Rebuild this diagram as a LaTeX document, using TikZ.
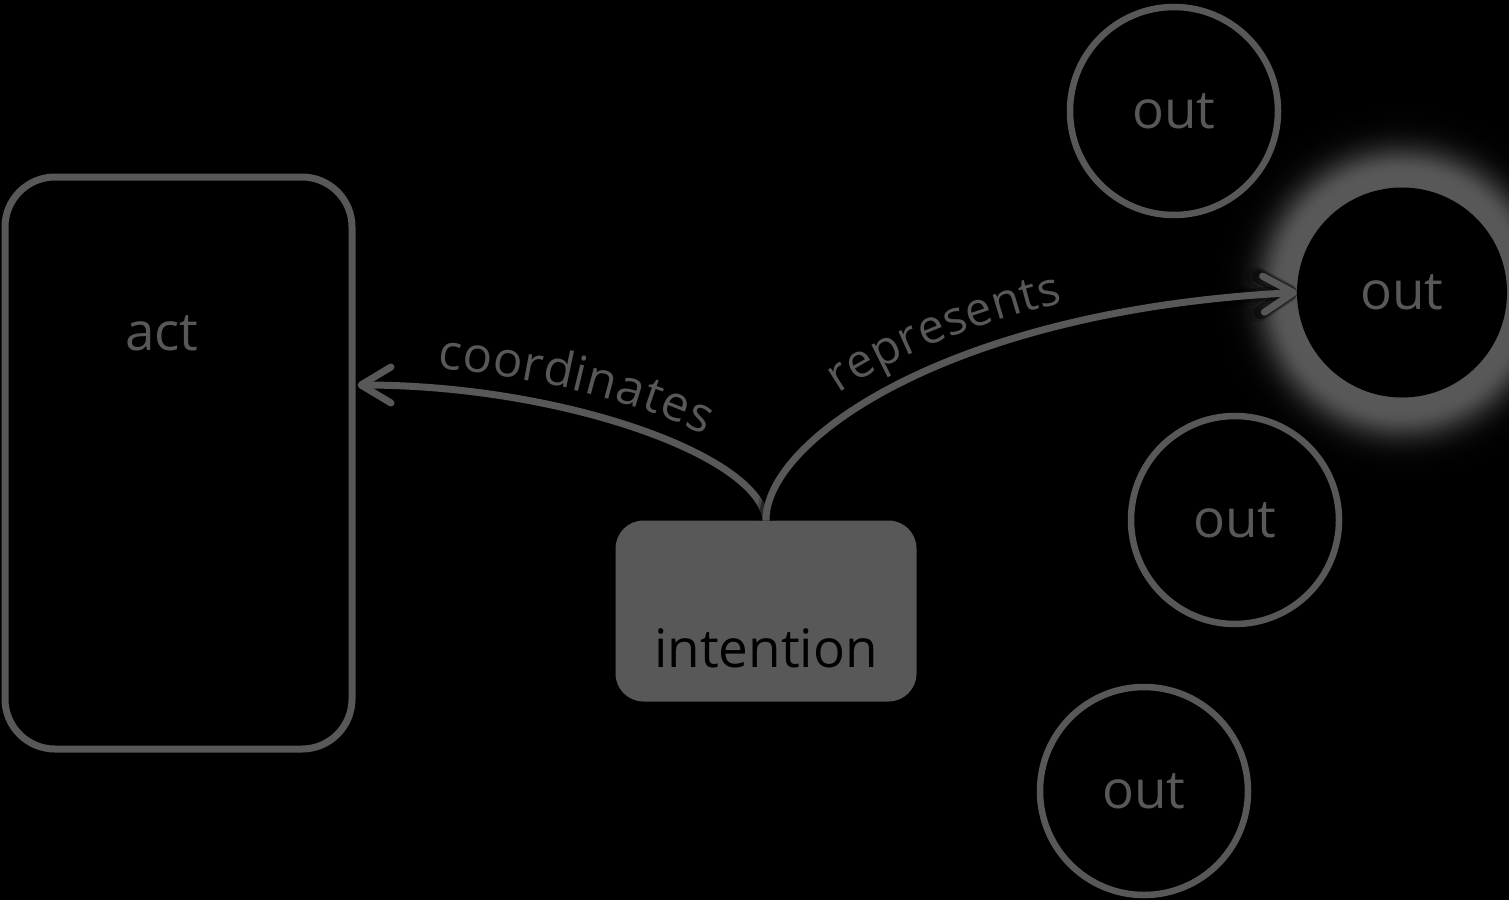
\documentclass[tikz,border=0pt]{standalone}
\usepackage{fontspec}
\setmainfont{Open Sans}
\usetikzlibrary{arrows.meta,decorations.text}
\definecolor{fg}{HTML}{585858}
\newcommand\bigtext{\fontsize{53}{60}\selectfont}
\newcommand\lbltextA{\fontsize{49}{54}\selectfont}
\newcommand\lbltextB{\fontsize{47}{52}\selectfont}
\tikzset{
  actbox/.style={draw=fg, line width=7pt, rounded corners=50pt, minimum width=347pt, minimum height=572pt, inner sep=0pt},
  outc/.style={circle, draw=fg, line width=6.5pt, minimum size=208pt, inner sep=0pt, text=fg, font=\bigtext},
  hot/.style={circle, fill=black, minimum size=210pt, inner sep=0pt, outer sep=0pt, text=fg, font=\bigtext},
  intent/.style={fill=fg, rounded corners=28pt, minimum width=301pt, minimum height=181pt, inner sep=0pt, outer sep=0pt},
  lbl/.style={font=\bigtext, inner sep=0pt, anchor=base},
  barb/.style={-{Straight Barb[length=30pt,width=36pt,round]}},
  conn/.style={draw=fg, line width=7pt, barb},
  shadowline/.style={draw=black, barb},
}
\begin{document}
\begin{tikzpicture}[x=1pt,y=1pt]
\fill[black] (0,0) rectangle (1509,-900);
\useasboundingbox (0,0) rectangle (1509,-900);

% glow behind highlighted circle
\foreach \r in {184,182,...,106} {
  \pgfmathsetmacro\k{\r<=120 ? 100 : 100*exp(-((\r-120)/28)^2)}
  \fill[fg!\k!black] (1402,-292.5) circle (\r);
}

% nodes
\node[actbox] (act) at (178.5,-463) {};
\node[lbl, text=fg] (actlbl) at (162,-350) {act};
\node[intent] (int) at (766,-611) {};
\node[lbl, text=black] (intlbl) at (766,-667) {intention};
\node[outc] (o1) at (1174,-111) {out};
\node[hot] (o2) at (1402,-292.5) {out};
\node[outc] (o3) at (1235,-520) {out};
\node[outc] (o4) at (1144,-791) {out};

\coordinate (actin) at ([xshift=2pt,yshift=78pt]act.east);

% coordinates connector
\draw[conn] (int.north) .. controls (760,-455) and (560,-385) .. (actin);
\path[decorate, decoration={text along path, text color=fg, text={|\lbltextA|coordinates}, text align={left indent=78pt}, raise=20pt}]
  (actin) .. controls (560,-385) and (760,-455) .. (int.north);

% represents connector (with dark halo inside the glow)
\draw[shadowline, line width=20pt, opacity=0.2] (int.north) .. controls (765,-440) and (950,-310) .. (o2.west);
\draw[shadowline, line width=14pt, opacity=0.45] (int.north) .. controls (765,-440) and (950,-310) .. (o2.west);
\draw[conn] (int.north) .. controls (765,-440) and (950,-310) .. (o2.west);
\path[decorate, decoration={text along path, text color=fg, text={|\lbltextB|represents}, text align={left indent=142pt}, raise=22pt}]
  (int.north) .. controls (765,-440) and (950,-310) .. (o2.west);
\end{tikzpicture}
\end{document}
